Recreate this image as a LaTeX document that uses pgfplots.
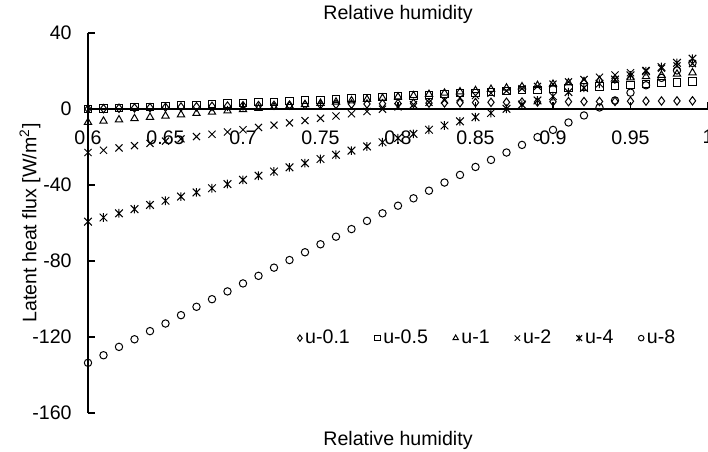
\documentclass[border=0pt]{standalone}
\usepackage{fontspec}
\setmainfont{Liberation Sans}
\usepackage{pgfplots}
\usepackage{pgfplotstable}
\pgfplotsset{compat=1.18}
\usetikzlibrary{plotmarks}
\pgfdeclareplotmark{xstar}{%
  \pgfpathmoveto{\pgfqpoint{-.70710678\pgfplotmarksize}{-.70710678\pgfplotmarksize}}%
  \pgfpathlineto{\pgfqpoint{.70710678\pgfplotmarksize}{.70710678\pgfplotmarksize}}%
  \pgfpathmoveto{\pgfqpoint{-.70710678\pgfplotmarksize}{.70710678\pgfplotmarksize}}%
  \pgfpathlineto{\pgfqpoint{.70710678\pgfplotmarksize}{-.70710678\pgfplotmarksize}}%
  \pgfpathmoveto{\pgfqpoint{0pt}{-.8\pgfplotmarksize}}%
  \pgfpathlineto{\pgfqpoint{0pt}{.8\pgfplotmarksize}}%
  \pgfusepathqstroke}
\pgfplotstableread{
x a b c d e f
0.60 0.00 0.00 -7.00 -22.9 -59.3 -133.6
0.61 0.20 0.30 -6.33 -21.7 -57.1 -129.6
0.62 0.40 0.61 -5.66 -20.5 -54.9 -125.2
0.63 0.55 0.92 -4.99 -19.3 -52.7 -121.2
0.64 0.70 1.23 -4.32 -18.1 -50.5 -116.9
0.65 0.90 1.55 -3.65 -16.9 -48.3 -112.9
0.66 1.05 1.86 -2.98 -15.7 -46.1 -108.5
0.67 1.20 2.19 -2.31 -14.5 -43.9 -104.1
0.68 1.40 2.52 -1.64 -13.3 -41.7 -100.1
0.69 1.55 2.85 -0.97 -12.1 -39.5 -96.0
0.70 1.70 3.18 -0.30 -10.9 -37.3 -91.8
0.71 1.80 3.52 0.37 -9.7 -35.1 -87.8
0.72 1.95 3.86 1.04 -8.5 -32.9 -83.5
0.73 2.05 4.20 1.71 -7.3 -30.7 -79.5
0.74 2.20 4.55 2.38 -6.1 -28.5 -75.4
0.75 2.30 4.91 3.05 -4.9 -26.3 -71.2
0.76 2.40 5.26 3.72 -3.7 -24.1 -67.2
0.77 2.55 5.62 4.39 -2.5 -21.9 -63.2
0.78 2.65 5.98 5.06 -1.3 -19.7 -58.9
0.79 2.75 6.35 5.73 -0.1 -17.5 -54.9
0.80 2.90 6.72 6.40 1.1 -15.3 -50.9
0.81 3.00 7.09 7.07 2.3 -13.1 -47.0
0.82 3.10 7.47 7.74 3.5 -10.9 -43.0
0.83 3.20 7.85 8.41 4.7 -8.7 -38.7
0.84 3.30 8.24 9.08 5.9 -6.5 -34.7
0.85 3.40 8.63 9.75 7.1 -4.3 -30.5
0.86 3.50 9.02 10.42 8.3 -2.1 -26.8
0.87 3.55 9.41 11.09 9.5 0.1 -22.9
0.88 3.65 9.81 11.76 10.7 2.3 -18.9
0.89 3.70 10.21 12.43 11.9 4.5 -14.8
0.90 3.80 10.62 13.10 13.1 6.7 -11.0
0.91 3.85 11.03 13.77 14.3 8.9 -7.1
0.92 3.90 11.44 14.44 15.5 11.1 -3.4
0.93 3.95 11.86 15.11 16.7 13.3 0.8
0.94 4.00 12.28 15.78 17.9 15.5 4.5
0.95 4.10 12.71 16.45 19.1 17.7 8.6
0.96 4.15 13.13 17.12 20.3 19.9 12.5
0.97 4.20 13.56 17.79 21.5 22.1 16.4
0.98 4.25 14.00 18.46 22.7 24.3 20.3
0.99 4.30 14.44 19.13 23.9 26.5 24.2
}\datatable
\begin{document}
\begin{tikzpicture}[font=\fontsize{9.8pt}{11pt}\selectfont]
\begin{axis}[
  scale only axis,
  width=310pt, height=190pt,
  xmin=0.6, xmax=1, ymin=-160, ymax=40,
  axis x line=middle, axis y line=left,
  axis line style={-, line width=0.9pt, black},
  every inner x axis line/.append style={-},
  every outer y axis line/.append style={-},
  hide obscured x ticks=false, hide obscured y ticks=false,
  clip=false,
  xtick={0.6,0.65,0.7,0.75,0.8,0.85,0.9,0.95,1},
  xticklabels={0.6,0.65,0.7,0.75,0.8,0.85,0.9,0.95,1},
  ytick={-160,-120,-80,-40,0,40},
  yticklabels={-160,-120,-80,-40,0,40},
  tick align=inside,
  major tick length=3.5pt,
  tick style={line width=0.9pt, black},
  xticklabel style={inner sep=0pt, anchor=north, yshift=-10.5pt},
  yticklabel style={inner sep=0pt, anchor=east, xshift=-8pt},
  legend columns=6,
  legend style={at={(rel axis cs:0.645,0.197)}, anchor=center, draw=none, fill=none,
    /tikz/every even column/.append style={column sep=11pt},
    nodes={inner sep=1.5pt}},
  legend image code/.code={\draw[#1, every mark/.append style={scale=0.75}] plot coordinates {(0pt,0pt)};},
  every axis plot/.append style={only marks, black, line width=0.5pt},
]
\addplot[mark=diamond, mark size=2.1pt] table[x=x,y=a] {\datatable};
\addplot[mark=square, mark size=1.8pt] table[x=x,y=b] {\datatable};
\addplot[mark=triangle, mark size=2.1pt] table[x=x,y=c] {\datatable};
\addplot[mark=x, mark size=2.5pt] table[x=x,y=d] {\datatable};
\addplot[mark=xstar, mark size=2.7pt] table[x=x,y=e] {\datatable};
\addplot[mark=o, mark size=1.85pt] table[x=x,y=f] {\datatable};
\legend{u-0.1,u-0.5,u-1,u-2,u-4,u-8}
\coordinate (ll) at (rel axis cs:0,0);
\coordinate (ur) at (rel axis cs:1,1);
\node[anchor=base] at ([yshift=7pt]rel axis cs:0.5,1) {Relative humidity};
\node[anchor=base] at ([yshift=-16pt]rel axis cs:0.5,0) {Relative humidity};
\node[anchor=base, rotate=90] at ([xshift=-25.75pt]rel axis cs:0,0.5) {Latent heat flux [W/m\textsuperscript{2}]};
\end{axis}
\pgfresetboundingbox
\path[use as bounding box] ([xshift=-44pt,yshift=-19pt]ll) rectangle ([yshift=16.5pt]ur);
\end{tikzpicture}
\end{document}
